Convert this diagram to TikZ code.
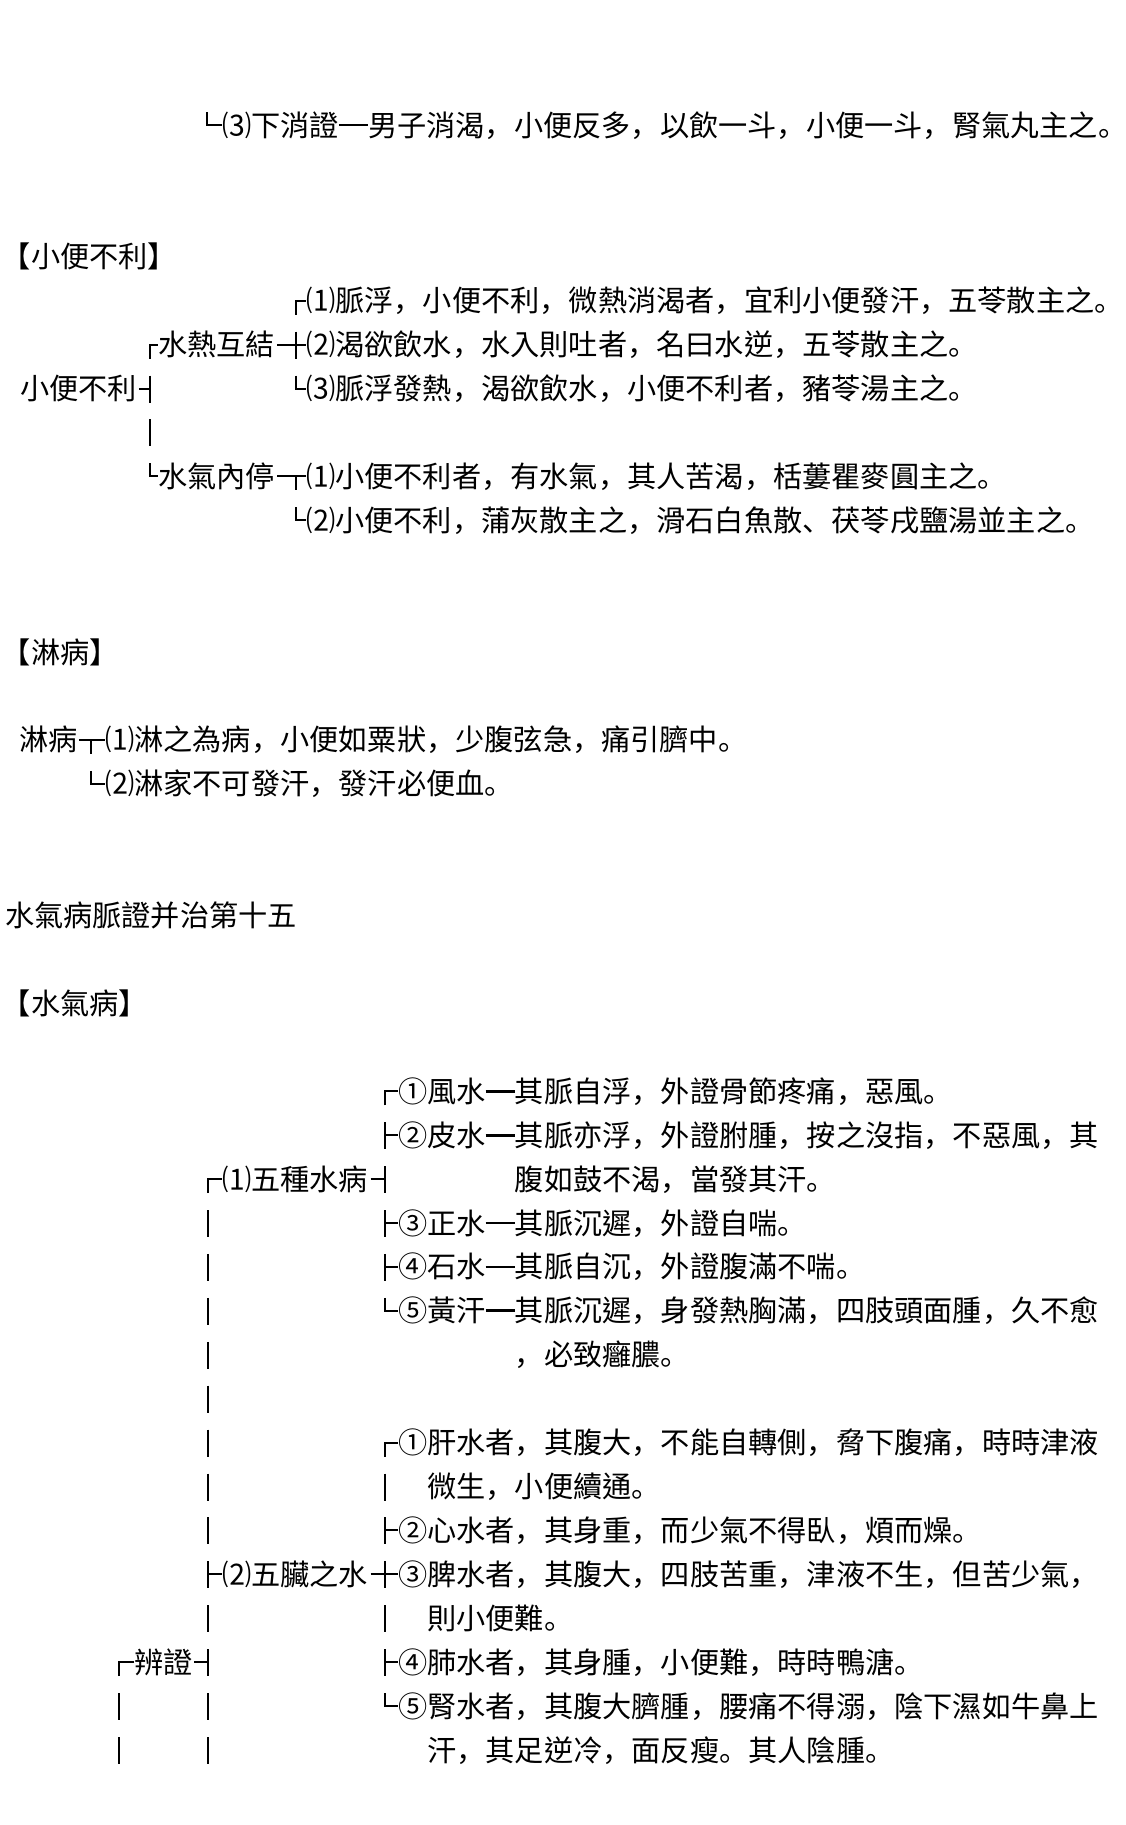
\documentclass[tikz,border=0pt]{standalone}
\usepackage{fontspec}
\newfontfamily\tcfont{Noto Sans CJK TC}
\newfontfamily\scfont{Noto Sans CJK SC}
\XeTeXinterchartokenstate=1
\chardef\mypc=10
\XeTeXcharclass"FF0C=\mypc
\XeTeXcharclass"3002=\mypc
\XeTeXcharclass"3001=\mypc
\newcommand\pcsc[1]{{\XeTeXinterchartokenstate=0 \scfont#1}}
\XeTeXinterchartoks 0 \mypc = {\pcsc}
\XeTeXinterchartoks 1 \mypc = {\pcsc}
\XeTeXinterchartoks 2 \mypc = {\pcsc}
\XeTeXinterchartoks 3 \mypc = {\pcsc}
\XeTeXinterchartoks 4095 \mypc = {\pcsc}
\XeTeXinterchartoks \mypc \mypc = {\pcsc}
\tikzset{
  txt/.style={anchor=base west,inner sep=0pt,outer sep=0pt,font=\tcfont\fontsize{21.9pt}{26pt}\selectfont},
  bx/.style={line width=1.5pt,line cap=butt,line join=miter,black},
  heavy/.style={line width=2.1pt,line cap=butt,black}
}
\newcommand\vfull[2]{\draw[bx] (#1,{ly(#2)-13}) -- (#1,{ly(#2)+14});}
\newcommand\vdown[2]{\draw[bx] (#1,{ly(#2)}) -- (#1,{ly(#2)+14});}
\newcommand\vup[2]{\draw[bx] (#1,{ly(#2)-13}) -- (#1,{ly(#2)});}
\newcommand\tx[4]{\node[txt] (#1) at (#2,{ly(#3)+11}) {#4};}
\begin{document}
\begin{tikzpicture}[x=0.75pt,y=-0.75pt,declare function={ly(\n)=125+43.92*\n;}]
\fill[white] (0,0) rectangle (1125,1825);
\useasboundingbox (0,0) rectangle (1125,1825);
\foreach \n in {0,...,37} {\coordinate (L\n) at (0,{ly(\n)});}

% ---- line 0
\tx{a1}{222}{0}{⑶下消證}
\tx{a2}{368}{0}{男子消渴，小便反多，以飲一斗，小便一斗，腎氣丸主之。}
\draw[bx] (207,{ly(0)-13}) -- (207,{ly(0)}) -- (a1.west |- L0);
\draw[heavy] (a1.east |- L0) -- (a2.west |- L0);

% ---- 小便不利
\tx{h1}{2}{3}{【小便不利】}
\tx{r1}{20}{6}{小便不利}
\tx{k1}{158}{5}{水熱互結}
\tx{k2}{158}{8}{水氣內停}
\tx{b1}{306}{4}{⑴脈浮，小便不利，微熱消渴者，宜利小便發汗，五苓散主之。}
\tx{b2}{306}{5}{⑵渴欲飲水，水入則吐者，名曰水逆，五苓散主之。}
\tx{b3}{306}{6}{⑶脈浮發熱，渴欲飲水，小便不利者，豬苓湯主之。}
\tx{b4}{306}{8}{⑴小便不利者，有水氣，其人苦渴，栝蔞瞿麥圓主之。}
\tx{b5}{306}{9}{⑵小便不利，蒲灰散主之，滑石白魚散、茯苓戌鹽湯並主之。}
% column 150
\draw[bx] (150,{ly(5)+14}) -- (150,{ly(5)}) -- (k1.west |- L5);
\vfull{150}{6}
\draw[bx] ([xshift=1.5]r1.east |- L6) -- (150,{ly(6)});
\vfull{150}{7}
\draw[bx] (150,{ly(8)-13}) -- (150,{ly(8)}) -- (k2.west |- L8);
% column 296
\draw[bx] (296,{ly(4)+14}) -- (296,{ly(4)}) -- (b1.west |- L4);
\draw[bx] ([xshift=2]k1.east |- L5) -- (b2.west |- L5);
\vfull{296}{5}
\draw[bx] (296,{ly(6)-13}) -- (296,{ly(6)}) -- (b3.west |- L6);
\draw[bx] ([xshift=2]k2.east |- L8) -- (b4.west |- L8);
\vdown{296}{8}
\draw[bx] (296,{ly(9)-13}) -- (296,{ly(9)}) -- (b5.west |- L9);

% ---- 淋病
\tx{h2}{2}{12}{【淋病】}
\tx{c0}{19}{14}{淋病}
\tx{c1}{105}{14}{⑴淋之為病，小便如粟狀，少腹弦急，痛引臍中。}
\tx{c2}{105}{15}{⑵淋家不可發汗，發汗必便血。}
\draw[bx] ([xshift=1.5]c0.east |- L14) -- (c1.west |- L14);
\vdown{91}{14}
\draw[bx] (91,{ly(15)-13}) -- (91,{ly(15)}) -- (c2.west |- L15);

% ---- title
\tx{t1}{5}{18}{水氣病脈證并治第十五}
\tx{h3}{2}{20}{【水氣病】}

% ---- 水氣病 tree
\tx{v1}{134}{35}{辨證}
\tx{g1}{222}{24}{⑴五種水病}
\tx{g2}{222}{33}{⑵五臟之水}
\tx{d1}{398}{22}{①風水}
\tx{d2}{398}{23}{②皮水}
\tx{d3}{398}{25}{③正水}
\tx{d4}{398}{26}{④石水}
\tx{d5}{398}{27}{⑤黃汗}
\tx{e1}{514.8}{22}{其脈自浮，外證骨節疼痛，惡風。}
\tx{e2}{514.8}{23}{其脈亦浮，外證胕腫，按之沒指，不惡風，其}
\tx{e2b}{514.8}{24}{腹如鼓不渴，當發其汗。}
\tx{e3}{514.8}{25}{其脈沉遲，外證自喘。}
\tx{e4}{514.8}{26}{其脈自沉，外證腹滿不喘。}
\tx{e5}{514.8}{27}{其脈沉遲，身發熱胸滿，四肢頭面腫，久不愈}
\tx{e5b}{514.8}{28}{，必致癰膿。}
\tx{f1}{398}{30}{①肝水者，其腹大，不能自轉側，脅下腹痛，時時津液}
\tx{f1b}{427.2}{31}{微生，小便續通。}
\tx{f2}{398}{32}{②心水者，其身重，而少氣不得臥，煩而燥。}
\tx{f3}{398}{33}{③脾水者，其腹大，四肢苦重，津液不生，但苦少氣，}
\tx{f3b}{427.2}{34}{則小便難。}
\tx{f4}{398}{35}{④肺水者，其身腫，小便難，時時鴨溏。}
\tx{f5}{398}{36}{⑤腎水者，其腹大臍腫，腰痛不得溺，陰下濕如牛鼻上}
\tx{f5b}{427.2}{37}{汗，其足逆冷，面反瘦。其人陰腫。}
% heavy dashes
\foreach \d/\e/\n in {d1/e1/22,d2/e2/23,d3/e3/25,d4/e4/26,d5/e5/27}
  {\draw[heavy] (\d.east |- L\n) -- (\e.west |- L\n);}
% column 385, group 1
\draw[bx] (385,{ly(22)+14}) -- (385,{ly(22)}) -- (d1.west |- L22);
\vfull{385}{23} \draw[bx] (385,{ly(23)}) -- (d2.west |- L23);
\vfull{385}{24} \draw[bx] ([xshift=2]g1.east |- L24) -- (385,{ly(24)});
\vfull{385}{25} \draw[bx] (385,{ly(25)}) -- (d3.west |- L25);
\vfull{385}{26} \draw[bx] (385,{ly(26)}) -- (d4.west |- L26);
\draw[bx] (385,{ly(27)-13}) -- (385,{ly(27)}) -- (d5.west |- L27);
% column 385, group 2
\draw[bx] (385,{ly(30)+14}) -- (385,{ly(30)}) -- (f1.west |- L30);
\vfull{385}{31}
\vfull{385}{32} \draw[bx] (385,{ly(32)}) -- (f2.west |- L32);
\vfull{385}{33} \draw[bx] ([xshift=2]g2.east |- L33) -- (f3.west |- L33);
\vfull{385}{34}
\vfull{385}{35} \draw[bx] (385,{ly(35)}) -- (f4.west |- L35);
\draw[bx] (385,{ly(36)-13}) -- (385,{ly(36)}) -- (f5.west |- L36);
% column 208
\draw[bx] (208,{ly(24)+14}) -- (208,{ly(24)}) -- (g1.west |- L24);
\foreach \n in {25,...,37} {\vfull{208}{\n}}
\draw[bx] (208,{ly(33)}) -- (g2.west |- L33);
\draw[bx] ([xshift=1.5]v1.east |- L35) -- (208,{ly(35)});
% column 119
\draw[bx] (119,{ly(35)+14}) -- (119,{ly(35)}) -- (v1.west |- L35);
\vfull{119}{36}
\vfull{119}{37}
\end{tikzpicture}
\end{document}
